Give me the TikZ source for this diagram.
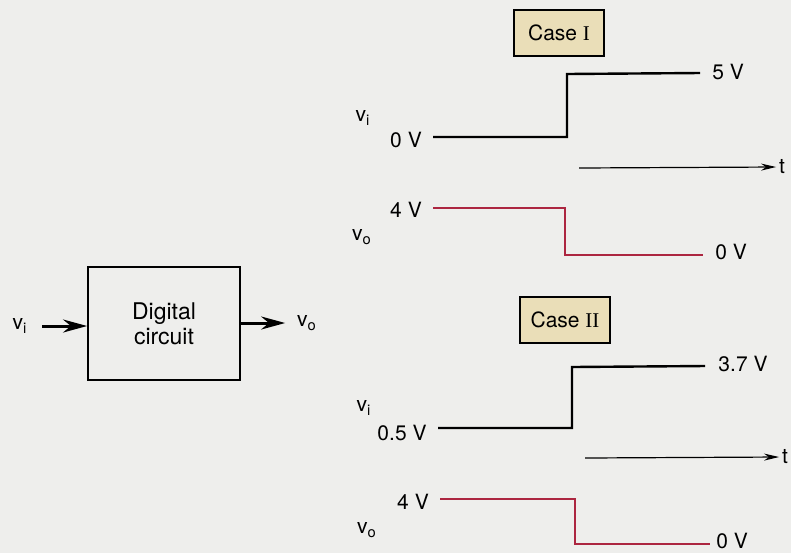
\documentclass[tikz,border=0pt]{standalone}
\usepackage{fontspec}
\setmainfont{TeX Gyre Heros}
\newfontfamily\casenum{Liberation Serif}
\usetikzlibrary{arrows.meta}
\definecolor{paper}{RGB}{238,238,236}
\definecolor{casefill}{RGB}{234,222,184}
\definecolor{outred}{RGB}{172,38,64}
\begin{document}
\begin{tikzpicture}[x=.5pt,y=-.5pt,line width=1pt,
  every node/.style={font=\fontsize{10.5}{12}\selectfont,inner sep=1pt},
  casebox/.style={draw,fill=casefill,line width=.6pt,minimum width=45pt,minimum height=23pt,
    font=\fontsize{10.5}{12}\selectfont},
  wave/.style={line width=1.2pt},
  outwave/.style={wave,draw=outred},
  taxis/.style={line width=.6pt,-{Stealth[length=7.5pt,width=3.5pt]}},
  flow/.style={line width=1.5pt,-{Stealth[length=12pt,width=6.5pt]}}]
  \path[use as bounding box,fill=paper] (0,0) rectangle (791,553);
  \node[draw,line width=.9pt,minimum width=76pt,minimum height=56.5pt,align=center,
    font=\fontsize{11.5}{12.5}\selectfont] (dc) at (164,323.5) {Digital\\circuit};
  \node (vin) at (20,326) {v\textsubscript{i}};
  \node (vout) at (307,323) {v\textsubscript{o}};
  \draw[flow,shorten <=6pt] (vin.east) -- (vin.east -| dc.west);
  \draw[flow,shorten >=4.5pt] (dc.east |- vout.west) -- (vout.west);
  \node[casebox] (case1) at (559,33) {Case {\casenum I}};
  \node (vi1) at (363,118) {v\textsubscript{i}};
  \node (lo1) at (406,140) {0 V};
  \node (hi1) at (728,72) {5 V};
  \coordinate (a0) at (433,137);
  \coordinate (a1) at (567,137);
  \coordinate (a2) at (567,74);
  \coordinate (a3) at (700,73);
  \draw[wave] (a0) -- (a1) -- (a2) -- (a3);
  \coordinate (t1s) at (579,168);
  \node (t1) at (782,167) {t};
  \draw[taxis] (t1s) -- (t1.west);
  \node (vo1) at (362,237) {v\textsubscript{o}};
  \node (hb1) at (406,210) {4 V};
  \node (lb1) at (731,252) {0 V};
  \coordinate (b0) at (433,208);
  \coordinate (b1) at (565,208);
  \coordinate (b2) at (565,255);
  \coordinate (b3) at (703,255);
  \draw[outwave] (b0) -- (b1) -- (b2) -- (b3);
  \node[casebox] (case2) at (565,320) {Case {\casenum II}};
  \node (vi2) at (364,408) {v\textsubscript{i}};
  \node (lo2) at (402,433) {0.5 V};
  \node (hi2) at (743,364) {3.7 V};
  \coordinate (c0) at (438,428);
  \coordinate (c1) at (572,428);
  \coordinate (c2) at (572,367);
  \coordinate (c3) at (705,366);
  \draw[wave] (c0) -- (c1) -- (c2) -- (c3);
  \coordinate (t2s) at (585,458);
  \node (t2) at (785,457) {t};
  \draw[taxis] (t2s) -- (t2.west);
  \node (vo2) at (367,530) {v\textsubscript{o}};
  \node (hb2) at (413,502) {4 V};
  \node (lb2) at (732,541) {0 V};
  \coordinate (d0) at (440,499);
  \coordinate (d1) at (575,499);
  \coordinate (d2) at (575,544);
  \coordinate (d3) at (710,544);
  \draw[outwave] (d0) -- (d1) -- (d2) -- (d3);
\end{tikzpicture}
\end{document}
